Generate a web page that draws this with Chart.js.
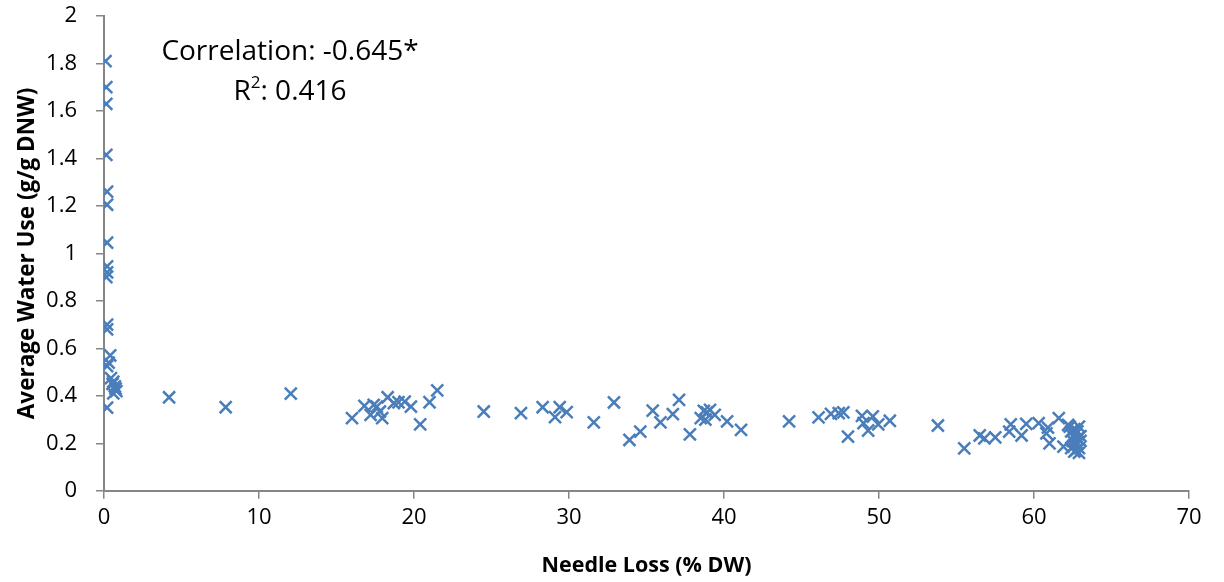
<!DOCTYPE html>
<html>
<head>
<meta charset="utf-8">
<script src="https://cdn.jsdelivr.net/npm/chart.js@4.4.0/dist/chart.umd.min.js"></script>
<style>
  html, body { margin: 0; padding: 0; background: #fff; }
  #wrap { width: 1224px; height: 582px; }
</style>
</head>
<body>
<div id="wrap"><canvas id="scatterChart"></canvas></div>
<script>
// Needle loss (% DW) and average water use (g/g DNW)
const needleLoss = [
  0.1, 0.15, 0.15, 0.15, 0.2, 0.2, 0.2, 0.2, 0.2, 0.15, 0.2, 0.2, 0.4, 0.3, 0.2,
  0.45, 0.6, 0.7, 0.8, 0.6, 0.75, 0.55, 0.2,
  4.2, 7.85, 12.05, 16.0, 16.8, 17.2, 17.4, 17.6, 17.8, 17.95, 18.3, 18.7, 19.0, 19.4, 19.8, 20.4, 21.0, 21.5,
  24.5, 26.9, 28.3, 29.1, 29.4, 29.85, 31.6, 32.9, 33.9, 34.6, 35.4, 35.9, 36.7, 37.1, 37.8,
  38.5, 38.7, 38.8, 38.9, 39.1, 39.4, 40.2, 41.1, 44.2, 46.1, 46.9, 47.4, 47.7, 48.0,
  48.9, 49.0, 49.3, 49.6, 49.95, 50.7, 53.8, 55.5, 56.5, 56.8, 57.5, 58.4, 58.5, 59.2, 59.5,
  60.3, 60.8, 60.9, 61.0, 61.6, 61.9, 62.2,
  62.3, 62.4, 62.5, 62.5, 62.6, 62.6, 62.7, 62.7, 62.8, 62.8, 62.9, 62.9, 62.9, 63.0, 63.0, 62.4, 62.6, 62.8
];
const waterUse = [
  1.81, 1.70, 1.63, 1.415, 1.26, 1.205, 1.045, 0.945, 0.92, 0.90, 0.70, 0.68, 0.57, 0.54, 0.525,
  0.475, 0.46, 0.44, 0.42, 0.41, 0.43, 0.45, 0.35,
  0.394, 0.352, 0.409, 0.306, 0.358, 0.32, 0.362, 0.355, 0.334, 0.306, 0.394, 0.369, 0.373, 0.376, 0.355, 0.28, 0.373, 0.423,
  0.334, 0.327, 0.352, 0.31, 0.352, 0.331, 0.288, 0.372, 0.214, 0.249, 0.338, 0.288, 0.323, 0.383, 0.238,
  0.306, 0.337, 0.30, 0.33, 0.341, 0.32, 0.292, 0.257, 0.292, 0.309, 0.324, 0.327, 0.33, 0.228,
  0.316, 0.285, 0.254, 0.313, 0.28, 0.295, 0.275, 0.179, 0.233, 0.221, 0.225, 0.249, 0.28, 0.233, 0.282,
  0.285, 0.242, 0.266, 0.20, 0.306, 0.186, 0.278,
  0.27, 0.25, 0.23, 0.21, 0.26, 0.19, 0.24, 0.17, 0.22, 0.20, 0.18, 0.16, 0.27, 0.23, 0.21, 0.18, 0.165, 0.25
];
const xTicks = [0, 10, 20, 30, 40, 50, 60, 70];
const yTicks = [0, 0.2, 0.4, 0.6, 0.8, 1, 1.2, 1.4, 1.6, 1.8, 2];
const noteLines = ['Correlation: -0.645*', 'R', '2', ': 0.416'];

const points = needleLoss.map((x, i) => ({ x: x, y: waterUse[i] }));
const axisGray = '#868686';
const fontFam = "'Open Sans', sans-serif";

// annotation in the upper left of the plot
const notePlugin = {
  id: 'note',
  afterDraw(chart) {
    const ctx = chart.ctx;
    const cx = chart.scales.x.getPixelForValue(12.0);
    const big = '28px ' + fontFam;
    const small = '17px ' + fontFam;
    ctx.save();
    ctx.fillStyle = '#000';
    ctx.textBaseline = 'alphabetic';
    ctx.font = big;
    ctx.textAlign = 'center';
    ctx.fillText(noteLines[0], cx, 60);
    // second line with superscript
    const wR = ctx.measureText(noteLines[1]).width;
    const wRest = ctx.measureText(noteLines[3]).width;
    ctx.font = small;
    const wSup = ctx.measureText(noteLines[2]).width;
    let x0 = cx - (wR + wSup + wRest) / 2;
    ctx.textAlign = 'left';
    ctx.font = big;
    ctx.fillText(noteLines[1], x0, 100);
    ctx.font = small;
    ctx.fillText(noteLines[2], x0 + wR, 88);
    ctx.font = big;
    ctx.fillText(noteLines[3], x0 + wR + wSup, 100);
    ctx.restore();
  }
};

new Chart(document.getElementById('scatterChart'), {
  type: 'scatter',
  data: {
    datasets: [{
      data: points,
      pointStyle: 'crossRot',
      pointRadius: 8.5,
      pointHoverRadius: 8.5,
      borderColor: '#4a7ebb',
      backgroundColor: '#4a7ebb',
      pointBorderWidth: 2.5
    }]
  },
  options: {
    responsive: true,
    maintainAspectRatio: false,
    animation: false,
    layout: { padding: { top: 16, right: 35, left: 10, bottom: 3 } },
    plugins: {
      legend: { display: false },
      tooltip: { enabled: false }
    },
    scales: {
      x: {
        type: 'linear',
        min: 0,
        max: 70,
        afterBuildTicks: axis => { axis.ticks = xTicks.map(v => ({ value: v })); },
        ticks: {
          color: '#000',
          font: { size: 22, family: fontFam },
          padding: 6
        },
        grid: { drawOnChartArea: false, color: axisGray, tickLength: 8, lineWidth: 1.5 },
        border: { color: axisGray, width: 2 },
        title: {
          display: true,
          text: 'Needle Loss (% DW)',
          color: '#000',
          font: { size: 21.5, weight: 'bold', family: fontFam },
          padding: { top: 16, bottom: 0 }
        }
      },
      y: {
        type: 'linear',
        min: 0,
        max: 2,
        afterBuildTicks: axis => { axis.ticks = yTicks.map(v => ({ value: v })); },
        afterFit: axis => {
          axis.width = 94;
          axis.paddingTop = 12;
          axis.paddingBottom = 12;
        },
        ticks: {
          color: '#000',
          font: { size: 22, family: fontFam },
          padding: 19,
          callback: v => String(Math.round(v * 10) / 10)
        },
        grid: { drawOnChartArea: false, color: axisGray, tickLength: 8, lineWidth: 1.5 },
        border: { color: axisGray, width: 2 },
        title: {
          display: true,
          text: 'Average Water Use (g/g DNW)',
          color: '#000',
          font: { size: 22.5, weight: 'bold', family: fontFam },
          padding: { top: 4, bottom: 0 }
        }
      }
    }
  },
  plugins: [notePlugin]
});
</script>
</body>
</html>
